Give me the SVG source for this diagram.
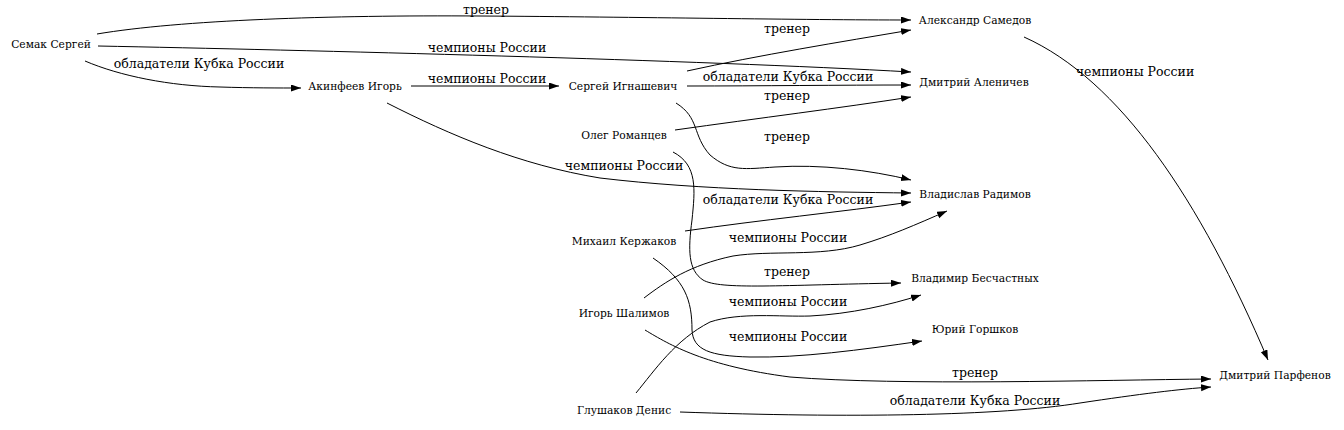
<svg xmlns="http://www.w3.org/2000/svg" width="1344" height="430" viewBox="0 0 1344 430">
<style>
.n{font-family:"DejaVu Serif","Liberation Serif",serif;font-size:10.7px;text-anchor:middle;fill:#000}
.l{font-family:"DejaVu Serif","Liberation Serif",serif;font-size:12.5px;text-anchor:middle;fill:#000}
.e path{fill:none;stroke:#000;stroke-width:1;marker-end:url(#a)}
</style>
<defs>
<marker id="a" markerUnits="userSpaceOnUse" markerWidth="11" markerHeight="8" refX="10" refY="3.5" orient="auto">
<path d="M0,0 L10,3.5 L0,7 z" fill="#000"/>
</marker>
</defs>
<rect width="1344" height="430" fill="#fff"/>
<g id="connectors" class="e">
<path d="M97,34 C180,20 330,15 480,16 C640,17 800,20 911,20"/>
<path d="M98,46 C300,50 700,60 911,72"/>
<path d="M85,61 C120,76 170,86 220,87 C250,88 280,88 301,88"/>
<path d="M411,86 L559,86"/>
<path d="M387,103 C450,135 520,165 600,178 C700,190 820,192 911,193"/>
<path d="M687,71 C760,55 840,42 911,30"/>
<path d="M687,86 C760,86 840,85 911,85"/>
<path d="M676,103 C700,118 692,135 710,155 C730,172 745,169 775,167 C820,164 870,170 911,180"/>
<path d="M675,130 C760,118 840,108 911,97"/>
<path d="M673,152 C698,165 695,190 692,220 C688,250 688,270 703,280 C720,290 780,285 901,283"/>
<path d="M685,231 C760,220 840,212 911,202"/>
<path d="M653,258 C685,280 692,300 692,330 C693,350 710,356 750,357 C800,358 860,350 922,341"/>
<path d="M644,298 C665,282 690,265 733,256 C770,250 820,257 860,245 C890,236 915,225 947,211"/>
<path d="M645,330 C670,345 705,366 790,377 C900,386 1100,380 1211,379"/>
<path d="M636,393 C655,370 675,340 710,322 C740,312 780,317 810,316 C850,314 890,305 921,295"/>
<path d="M680,412 C850,418 1000,416 1080,403 C1140,394 1180,389 1211,387"/>
<path d="M1024,37 C1120,80 1200,200 1268,360"/>
</g>
<g id="edge-labels">
<text class="l" x="486" y="14">тренер</text>
<text class="l" x="487" y="52">чемпионы России</text>
<text class="l" x="199" y="68">обладатели Кубка России</text>
<text class="l" x="487" y="83">чемпионы России</text>
<text class="l" x="787" y="33">тренер</text>
<text class="l" x="788" y="81">обладатели Кубка России</text>
<text class="l" x="787" y="100">тренер</text>
<text class="l" x="787" y="141">тренер</text>
<text class="l" x="624" y="170">чемпионы России</text>
<text class="l" x="788" y="204">обладатели Кубка России</text>
<text class="l" x="788" y="242">чемпионы России</text>
<text class="l" x="787" y="276">тренер</text>
<text class="l" x="788" y="306">чемпионы России</text>
<text class="l" x="788" y="341">чемпионы России</text>
<text class="l" x="975" y="377">тренер</text>
<text class="l" x="975" y="405">обладатели Кубка России</text>
<text class="l" x="1135" y="76">чемпионы России</text>
</g>
<g id="n1"><text class="n" x="51" y="47.5">Семак Сергей</text></g>
<g id="n2"><text class="n" x="355" y="89.5">Акинфеев Игорь</text></g>
<g id="n3"><text class="n" x="623" y="89.5">Сергей Игнашевич</text></g>
<g id="n4"><text class="n" x="624" y="138.5">Олег Романцев</text></g>
<g id="n5"><text class="n" x="624" y="244.5">Михаил Кержаков</text></g>
<g id="n6"><text class="n" x="624" y="316.5">Игорь Шалимов</text></g>
<g id="n7"><text class="n" x="624" y="413.5">Глушаков Денис</text></g>
<g id="n8"><text class="n" x="975" y="23.5">Александр Самедов</text></g>
<g id="n9"><text class="n" x="974" y="85.5">Дмитрий Аленичев</text></g>
<g id="n10"><text class="n" x="975" y="197.5">Владислав Радимов</text></g>
<g id="n11"><text class="n" x="975" y="281.5">Владимир Бесчастных</text></g>
<g id="n12"><text class="n" x="975" y="332.5">Юрий Горшков</text></g>
<g id="n13"><text class="n" x="1275" y="378.5">Дмитрий Парфенов</text></g>
</svg>
